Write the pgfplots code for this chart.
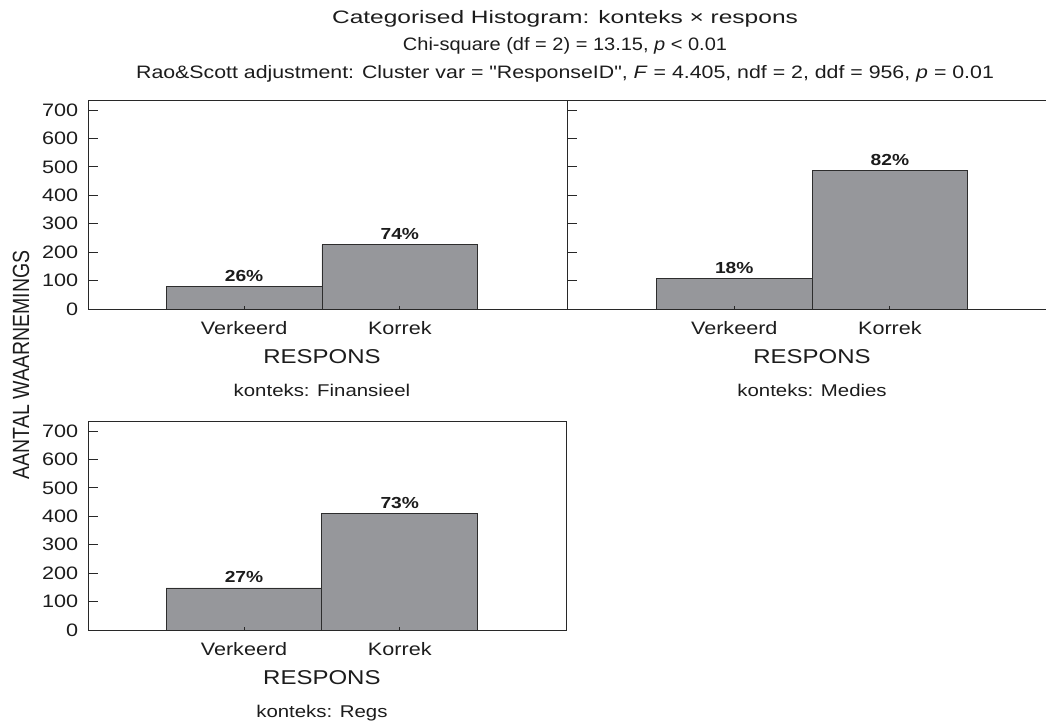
\documentclass[border=0pt]{standalone}
\usepackage{fontspec}
\setmainfont{Liberation Sans}[FakeStretch=1.2, Ligatures=TeXOff]
\newfontfamily\plainsans{Liberation Sans}
\usepackage{graphicx}
\usepackage{pgfplots}
\pgfplotsset{compat=1.18}

\definecolor{barfill}{RGB}{150,151,155}
\definecolor{baredge}{RGB}{45,45,45}
\definecolor{frame}{RGB}{40,40,40}
\definecolor{ink}{RGB}{28,28,28}

\newcommand{\fs}[1]{\fontsize{#1}{#1}\selectfont}

\tikzset{facet/.style={font=\fs{17}, text=ink, anchor=base, inner sep=0pt, yshift=-87.5pt}}

\pgfplotsset{
  panel/.style={
    scale only axis, width=479pt, height=208.3pt,
    ymin=0, ymax=733, xmin=-1, xmax=2.075,
    clip=false,
    ybar, bar width=1,
    axis on top,
    axis line style={frame, line width=1pt},
    xtick={0,1}, xticklabels={Verkeerd,Korrek},
    ytick={0,100,...,700},
    xtick pos=left, ytick pos=left,
    tick align=inside,
    major tick length=10pt,
    tick style={frame, line width=1pt},
    xtick style={/pgfplots/major tick length=3pt},
    /pgf/number format/assume math mode=true,
    xticklabel style={font=\fs{18}, text=ink, anchor=base, inner sep=0pt, yshift=-25.3pt},
    yticklabel style={font=\fs{18}, text=ink, anchor=east, inner sep=0pt, xshift=-10pt},
    xlabel={RESPONS},
    xlabel style={font=\fs{20}, text=ink, anchor=base, inner sep=0pt, yshift=-54.4pt},
    point meta=explicit symbolic,
    nodes near coords={\pgfplotspointmeta},
    every node near coord/.append style={font=\fs{16}\bfseries, text=ink, anchor=base, inner sep=0pt, yshift=5.3pt},
  },
  bars/.style={fill=barfill, draw=baredge, line width=0.9pt},
}

\begin{document}
\begin{tikzpicture}
\useasboundingbox (0pt,0pt) rectangle (1047pt,-726pt);

% titles
\node[font=\fs{18}, text=ink, anchor=base] at (565pt,-23pt)
  {\scalebox{1.134}[1]{Categorised Histogram: konteks × respons}};
\node[font=\fs{18}, text=ink, anchor=base] at (565pt,-50.5pt)
  {\scalebox{0.926}[1]{Chi-square (df = 2) = 13.15, \textit{p} < 0.01}};
\node[font=\fs{18}, text=ink, anchor=base] at (565pt,-78.5pt)
  {\scalebox{0.987}[1]{Rao\&Scott adjustment: Cluster var = "ResponseID", \textit{F} = 4.405, ndf = 2, ddf = 956, \textit{p} = 0.01}};

% shared y label
\node[rotate=90, font=\plainsans\fs{19.5}, text=ink] at (21pt,-365pt)
  {\scalebox{1}[1.2]{AANTAL WAARNEMINGS}};

% konteks: Finansieel
\begin{axis}[panel, at={(88.3pt,-309pt)}, anchor=south west,
  xlabel style={at={(rel axis cs:0.4878,0)}}]
  \addplot[bars] coordinates {(0,79) [26\%] (1,226) [74\%]};
  \node[facet] at (rel axis cs:0.4878,0) {konteks: Finansieel};
\end{axis}

% konteks: Medies
\begin{axis}[panel, at={(567.3pt,-309pt)}, anchor=south west,
  xmin=-1.073, xmax=2.005, axis x line*=box, axis y line*=left,
  yticklabels={},
  xlabel style={at={(rel axis cs:0.511,0)}}]
  \addplot[bars] coordinates {(0,108) [18\%] (1,486) [82\%]};
  \node[facet] at (rel axis cs:0.511,0) {konteks: Medies};
\end{axis}

% konteks: Regs
\begin{axis}[panel, at={(88.3pt,-630pt)}, anchor=south west,
  width=478.4pt, xmax=2.072,
  xlabel style={at={(rel axis cs:0.4883,0)}}]
  \addplot[bars] coordinates {(0,148) [27\%] (1,410) [73\%]};
  \node[facet] at (rel axis cs:0.4883,0) {konteks: Regs};
\end{axis}
\end{tikzpicture}
\end{document}
